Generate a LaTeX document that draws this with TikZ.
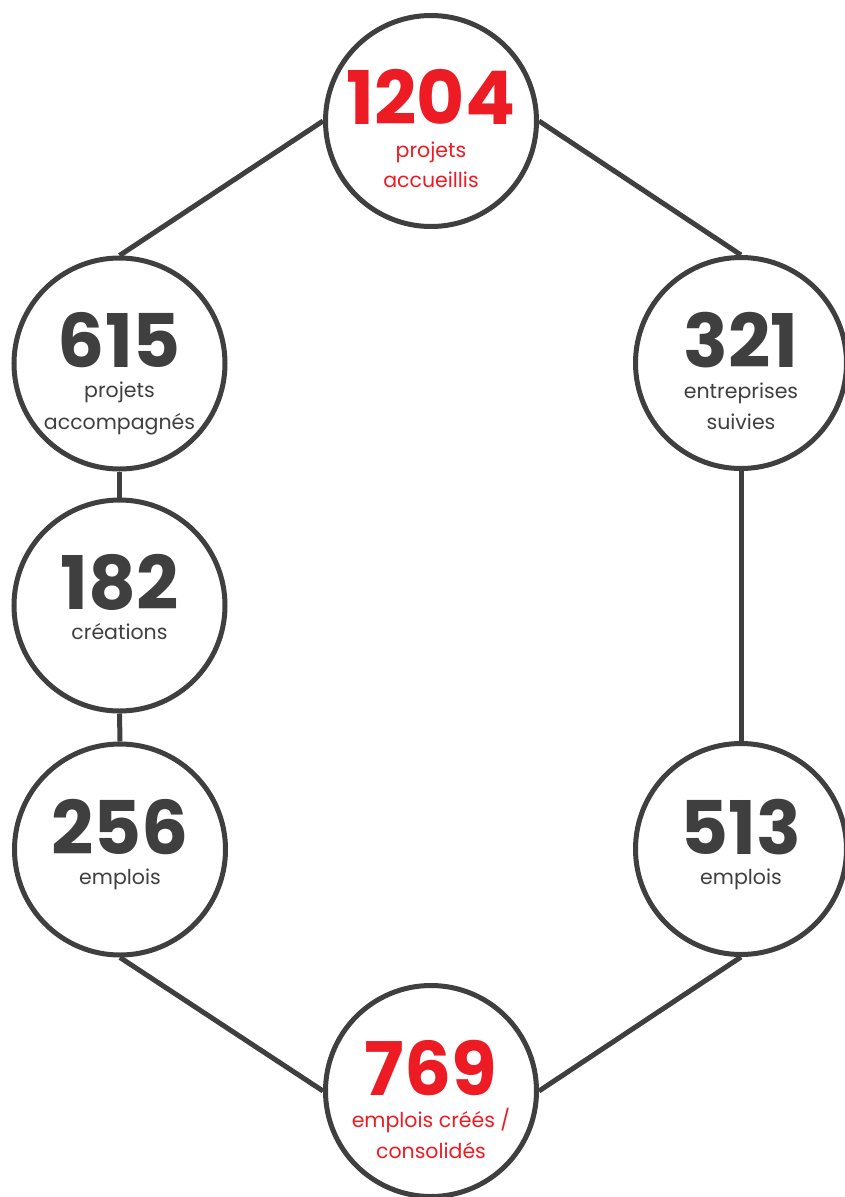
\documentclass[tikz,border=0pt]{standalone}
\usepackage{fontspec}
\setmainfont{Poppins}
\definecolor{dk}{HTML}{3F3F3F}
\definecolor{rd}{HTML}{ED1C24}
\begin{document}
\begin{tikzpicture}[x=1pt,y=-1pt,
  ring/.style={circle,draw=dk,line width=5pt,minimum size=211pt,inner sep=0pt,fill=white},
  link/.style={draw=dk,line width=5pt},
  num/.style={anchor=base,inner sep=0pt,font=\fontsize{74}{74}\selectfont\bfseries},
  lbl/.style={anchor=base,inner sep=0pt,font=\fontsize{20.5}{20.5}\selectfont}]
\useasboundingbox (0,0) rectangle (844,1197);
\coordinate (cA) at (431,121);
\coordinate (cB) at (119.5,363.5);
\coordinate (cC) at (119.5,605.5);
\coordinate (cD) at (120,849.5);
\coordinate (cE) at (741,363);
\coordinate (cF) at (741,849);
\coordinate (cG) at (431,1091);
\node[ring] (A) at (cA) {};
\node[ring] (B) at (cB) {};
\node[ring] (C) at (cC) {};
\node[ring] (D) at (cD) {};
\node[ring] (E) at (cE) {};
\node[ring] (F) at (cF) {};
\node[ring] (G) at (cG) {};
\draw[link] (A.west) -- (B.north);
\draw[link] (A.east) -- (E.north);
\draw[link] (B.south) -- (C.north);
\draw[link] (C.south) -- (D.north);
\draw[link] (E.south) -- (F.north);
\draw[link] (D.south) -- (G.west);
\draw[link] (F.south) -- (G.east);
% texts
\node[num,text=rd] (tA) at ([yshift=-3pt]cA) {1204};
\node[lbl,text=rd] (lA1) at ([yshift=-36pt]cA) {projets};
\node[lbl,text=rd] (lA2) at ([yshift=-66pt]cA) {accueillis};
\node[num,text=dk] (tB) at ([yshift=-4pt]cB) {615};
\node[lbl,text=dk] (lB1) at ([yshift=-34pt]cB) {projets};
\node[lbl,text=dk] (lB2) at ([yshift=-66pt]cB) {accompagnés};
\node[num,text=dk] (tC) at ([yshift=-4pt]cC) {182};
\node[lbl,text=dk] (lC1) at ([yshift=-34pt]cC) {créations};
\node[num,text=dk] (tD) at ([yshift=-5pt]cD) {256};
\node[lbl,text=dk] (lD1) at ([yshift=-35pt]cD) {emplois};
\node[num,text=dk] (tE) at ([yshift=-4pt]cE) {321};
\node[lbl,text=dk] (lE1) at ([yshift=-35pt]cE) {entreprises};
\node[lbl,text=dk] (lE2) at ([yshift=-66pt]cE) {suivies};
\node[num,text=dk] (tF) at ([yshift=-5pt]cF) {513};
\node[lbl,text=dk] (lF1) at ([yshift=-35pt]cF) {emplois};
\node[num,text=rd] (tG) at ([yshift=-4pt]cG) {769};
\node[lbl,text=rd] (lG1) at ([yshift=-36pt]cG) {emplois créés /};
\node[lbl,text=rd] (lG2) at ([yshift=-67pt]cG) {consolidés};
\end{tikzpicture}
\end{document}
